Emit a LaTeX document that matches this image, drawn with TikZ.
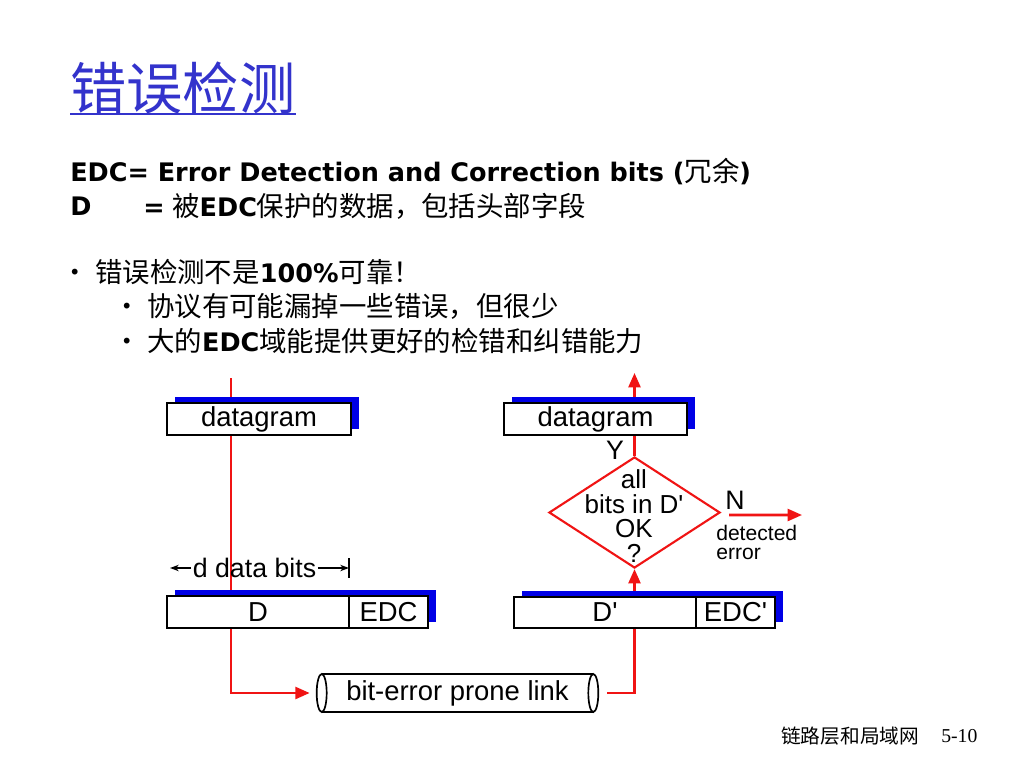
\documentclass[tikz,border=0pt]{standalone}
\usepackage{fontspec}
\setmainfont{Liberation Sans}
\newfontfamily\cjk{Noto Sans CJK SC}
\newfontfamily\lat{DejaVu Sans}[Scale=0.93]
\newfontfamily\tms{Liberation Serif}
\usetikzlibrary{shapes.geometric,shadows,arrows.meta,backgrounds}
\definecolor{titleblue}{RGB}{51,51,204}
\definecolor{barblue}{RGB}{0,0,230}
\definecolor{linkred}{RGB}{240,20,20}
\newcommand{\zht}[1]{{\cjk #1}}
\newcommand{\lbf}[1]{{\lat\bfseries #1}}
\newcommand{\prm}{\textquotesingle}
\newcommand{\bul}{\makebox[0.625cm][l]{\hspace*{-0.23cm}\zht{·}}}
\tikzset{
  body/.style={anchor=west, inner sep=0pt, font=\fontsize{19.5}{24}\selectfont},
  pkt/.style={draw, line width=1.2pt, fill=white, minimum height=0.8cm, inner sep=0pt,
    font=\fontsize{19.5}{20}\selectfont,
    drop shadow={fill=barblue, opacity=1, shadow xshift=0.19cm, shadow yshift=0.14cm}},
  flow/.style={draw=linkred, line width=1.8pt, -{Triangle[length=0.36cm,width=0.3cm]}},
  dimarrow/.style={line width=0.9pt, -{Stealth[length=0.22cm,width=0.16cm]}},
  chk/.style={diamond, draw=linkred, line width=1.5pt, minimum width=4.275cm,
    minimum height=2.775cm, inner sep=0pt},
  lbl/.style={inner sep=1pt, font=\fontsize{19}{17}\selectfont},
  small/.style={inner sep=0pt, align=left, font=\fontsize{15}{13.5}\selectfont}
}
\begin{document}
\begin{tikzpicture}[x=0.025cm,y=-0.025cm]
  \begin{pgfonlayer}{background}
    \fill[white] (0,0) rectangle (1024,768);
  \end{pgfonlayer}
  \useasboundingbox (0,0) rectangle (1024,768);

  \node[anchor=west, inner sep=0pt, text=titleblue, font=\cjk\fontsize{40}{44}\selectfont] (title) at (70,88) {错误检测};
  \draw[titleblue, line width=1.5pt] (title.south west) -- (title.south east);

  \node[body] (edc) at (70,172) {\lbf{EDC= Error Detection and Correction bits (}\zht{冗余}\lbf{)}};
  \node[body] (defD) at (70,206) {\lbf{D}};
  \node[body] (defEq) at (143,206) {\lbf{=} \zht{被}\lbf{EDC}\zht{保护的数据，包括头部字段}};
  \node[body] (pt1) at (70,272) {\bul\zht{错误检测不是}\lbf{100\%}\zht{可靠！}};
  \node[body] (pt2) at (122,306) {\bul\zht{协议有可能漏掉一些错误，但很少}};
  \node[body] (pt3) at (122,341) {\bul\zht{大的}\lbf{EDC}\zht{域能提供更好的检错和纠错能力}};

  \node[pkt, minimum width=4.6cm] (dgL) at (259,419) {datagram};
  \node[pkt, minimum width=4.55cm] (dL) at (258,612) {D};
  \node[pkt, minimum width=1.975cm] (edcL) at (388.5,612) {EDC};

  \node[pkt, minimum width=4.575cm] (dgR) at (595.5,419) {datagram};
  \node[pkt, minimum width=4.55cm, minimum height=0.775cm] (dR) at (605,612.5) {D\prm};
  \node[pkt, minimum width=1.975cm, minimum height=0.775cm] (edcR) at (735.5,612.5) {EDC\prm};

  \node[chk] (chk) at (634.5,512.5) {};
  \node[lbl, align=center, font=\fontsize{18.5}{17.5}\selectfont] (chktxt) at (634,516) {all\\bits in D\prm\\OK\\?};
  \node[lbl] (yes) at (615,450) {Y};
  \node[lbl] (no) at (735,500) {N};
  \node[small, anchor=west] (deterr) at (716,542) {detected\\error};

  \node[lbl] (dbits) at (254.5,568) {d data bits};
  \coordinate (dimL) at (170,568);
  \coordinate (dimR) at (349,568);
  \draw[dimarrow] (dbits.west) -- (dimL);
  \draw[dimarrow] (dbits.east) -- (dimR);
  \draw[line width=0.9pt] ([shift={(0,-10)}]dimR) -- ([shift={(0,10)}]dimR);

  \node[inner sep=0pt, minimum width=6.775cm, minimum height=0.95cm, font=\fontsize{19.5}{20}\selectfont] (link) at (457.5,693) {bit-error prone link};
  \draw[line width=1.2pt] (link.north west) -- (link.north east) (link.south west) -- (link.south east);
  \draw[line width=1.2pt, fill=white] (link.west) ellipse [x radius=0.125cm, y radius=0.475cm];
  \draw[line width=1.2pt, fill=white] (link.east) ellipse [x radius=0.125cm, y radius=0.475cm];

  \coordinate (srcL) at (231,378);
  \coordinate (outR) at (634.5,373);
  \coordinate (errR) at (802,515);
  \begin{pgfonlayer}{background}
    \draw[flow] (srcL) |- ([shift={(-12,0)}]link.west);
    \draw[flow] ([shift={(14,0)}]link.east) -| (chk.south);
    \draw[flow] (chk.north) -- (outR);
  \end{pgfonlayer}
  \draw[flow] ([shift={(8,2.5)}]chk.east) -- (errR);

  \node[anchor=west, inner sep=0pt, font=\cjk\fontsize{14}{16}\selectfont] (foot) at (781,736) {链路层和局域网};
  \node[anchor=west, inner sep=0pt, font=\tms\fontsize{14}{16}\selectfont] (pg) at (941,736) {5-10};
\end{tikzpicture}
\end{document}
